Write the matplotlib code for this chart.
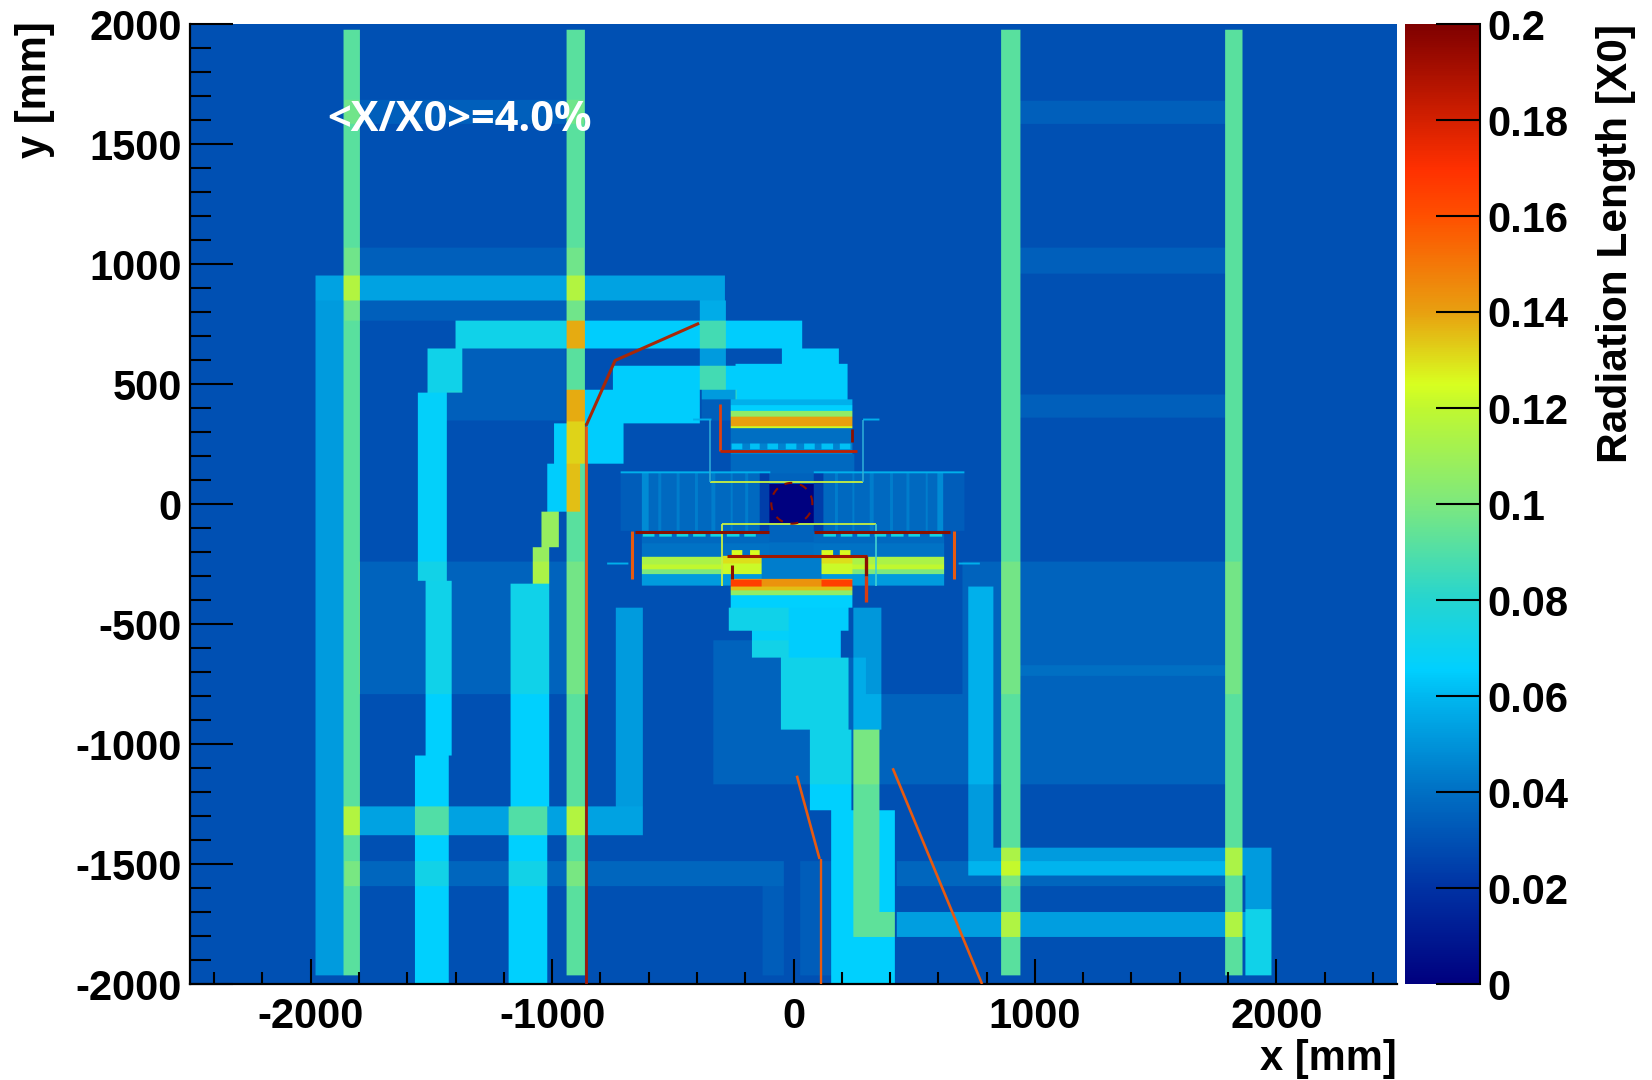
"""Radiation length map in the x-y plane, drawn as a material budget picture."""

import matplotlib
matplotlib.use("Agg")
import matplotlib.pyplot as plt
import numpy as np
from matplotlib.colors import LinearSegmentedColormap

plt.rcParams["font.family"] = ["Liberation Sans", "DejaVu Sans"]
plt.rcParams["axes.unicode_minus"] = False

W, H = 1652, 1080

# colour scale
CMAP_VALUES = [0, 0.02, 0.04, 0.06, 0.0655, 0.08, 0.1, 0.12, 0.125, 0.14, 0.16, 0.17, 0.2]
CMAP_COLORS = ["#00007f", "#0032a4", "#0070c4", "#00b8f0", "#00d0ff", "#25d5d0", "#7de87e",
               "#c0f830", "#d8ff20", "#e8a010", "#ff5000", "#ff3000", "#7f0000"]

BACKGROUND = 0.03
XTICKS = [-2000, -1000, 0, 1000, 2000]
YTICKS = [-2000, -1500, -1000, -500, 0, 500, 1000, 1500, 2000]
ZTICKS = [0, 0.02, 0.04, 0.06, 0.08, 0.1, 0.12, 0.14, 0.16, 0.18, 0.2]
ZTICK_LABELS = ["0", "0.02", "0.04", "0.06", "0.08", "0.1", "0.12", "0.14", "0.16", "0.18", "0.2"]

# (x0, x1, y0, y1, added X/X0), faint structure behind everything
FAINT_BANDS = [
    (-1860, -870, 1584, 1685, 0.005), (939, 1790, 1584, 1680, 0.005),
    (-1860, -870, 954, 1067, 0.005), (939, 1790, 960, 1068, 0.005),
    (-1860, -280, 765, 848, 0.005), (-1370, -943, 473, 646, 0.005),
    (-1438, -943, 348, 473, 0.005), (939, 1790, 360, 457, 0.005),
    (-379, -260, 348, 437, 0.005),
    (-1800, -870, -790, -240, 0.006), (700, 1850, -790, -240, 0.006),
    (939, 1790, -715, -670, 0.004),
    (-332, -20, -638, -569, 0.006), (-332, 300, -1166, -638, 0.006), (300, 860, -1166, -790, 0.006),
    (939, 1790, -1166, -790, 0.006),
    (-1860, -41, -1590, -1486, 0.007), (430, 1790, -1590, -1486, 0.007),
    (-128, -41, -1965, -1590, 0.004), (29, 158, -1965, -1486, 0.004),
]

# cold pipes and service channels
PIPES = [
    # upper left loop
    (-1981, -282, 850, 954, 0.024), (-1981, -1863, -1965, 850, 0.022),
    (-387, -280, 577, 850, 0.022), (-387, -280, 477, 577, 0.022), (-379, -238, 437, 477, 0.022),
    # top pipe and elbow
    (-1399, -943, 648, 764, 0.042), (-943, 38, 648, 764, 0.035),
    (-49, 186, 584, 648, 0.035), (-239, 224, 437, 584, 0.035),
    (-746, -239, 476, 577, 0.035),
    (-863, -387, 337, 476, 0.035),
    (-856, -704, 167, 337, 0.035), (-991, -942, 167, 337, 0.035),
    (-942, -863, 345, 476, 0.046), (-942, -863, 167, 345, 0.040),
    (-1022, -884, -30, 167, 0.035), (-942, -884, -30, 167, 0.008),
    # middle left run
    (-1517, -1370, 466, 646, 0.042), (-1557, -1438, -320, 466, 0.037),
    (-1525, -1416, -1048, -320, 0.036),
    (-1569, -1428, -2000, -1048, 0.036),
    (-1042, -973, -180, -30, 0.078), (-1081, -1012, -333, -180, 0.078),
    (-1171, -1014, -1259, -333, 0.036),
    (-1182, -1021, -2000, -1259, 0.036),
    # lower left crossing
    (-1863, -625, -1379, -1259, 0.024), (-735, -625, -1259, -433, 0.022),
    # funnel under the detector
    (-270, -20, -527, -430, 0.042), (-20, 227, -527, -430, 0.035),
    (-170, -20, -638, -527, 0.037), (-20, 197, -638, -527, 0.035),
    (-51, 228, -941, -638, 0.036), (69, 241, -1277, -941, 0.036),
    (158, 247, -1805, -1277, 0.036), (158, 421, -2000, -1805, 0.036),
    (247, 365, -941, -433, 0.021), (247, 358, -1701, -941, 0.063),
    (358, 421, -1701, -1277, 0.036), (247, 421, -1805, -1701, 0.063),
    # lower right loop
    (426, 1871, -1805, -1701, 0.023), (1871, 1978, -1965, -1687, 0.042),
    (1871, 1978, -1687, -1430, 0.022), (722, 1871, -1548, -1430, 0.022),
    (722, 830, -1430, -342, 0.022),
]

# vertical coils
COILS = [
    (-1863, -1794, -1965, 1978, 0.062), (-942, -863, -1965, 1978, 0.062),
    (860, 938, -1965, 1978, 0.062), (1790, 1858, -1965, 1978, 0.062),
]

# extra material where the top pipe runs through the coil
CROSSINGS = [(-942, -863, 648, 764, 0.011)]

# (x0, x1, y0, y1, X/X0), central detector painted over the rest
DETECTOR = [
    # barrel
    (-715, 710, -110, 126, 0.034), (-626, 620, -110, 126, 0.038),
    (-626, -600, -110, 126, 0.048), (596, 620, -110, 126, 0.048),
    # upper stack
    (-260, 245, 411, 435, 0.058), (-260, 245, 387, 411, 0.066), (-260, 245, 365, 387, 0.106),
    (-260, 245, 323, 365, 0.140), (-260, 245, 317, 323, 0.122), (-260, 245, 251, 317, 0.040),
    (-260, 245, 209, 251, 0.045), (-262, 250, 91, 209, 0.038),
    # lower barrel layers
    (-626, 624, -163, -117, 0.038), (-626, 624, -221, -163, 0.041),
    (-626, 624, -253, -221, 0.114), (-626, 624, -270, -253, 0.120),
    (-626, 624, -293, -270, 0.100), (-626, 624, -341, -293, 0.052),
    # lower stack
    (-293, -132, -250, -215, 0.130), (117, 245, -250, -215, 0.130),
    (-293, -132, -293, -250, 0.122), (117, 245, -293, -250, 0.122),
    (-132, 117, -312, -215, 0.044), (-293, -132, -316, -293, 0.052), (117, 245, -316, -293, 0.052),
    (-260, 245, -344, -312, 0.143), (-260, -132, -344, -316, 0.165), (117, 245, -344, -316, 0.165),
    (-260, 245, -361, -344, 0.135), (-260, 245, -381, -361, 0.106), (-260, 245, -430, -381, 0.066),
    # beam hole
    (-139, 126, -110, 126, 0.024), (-100, 86, 84, 126, 0.036), (-100, 86, -110, -80, 0.036),
    (-100, 86, -80, 84, 0.001), (-100, 86, -160, -110, 0.036),
    (-100, 86, -215, -160, 0.040),
    # thin cylinders and stubs
    (-715, -97, 128, 137, 0.058), (82, 710, 128, 137, 0.058),
    (-415, -339, 348, 356, 0.058), (289, 358, 348, 356, 0.058),
    (-773, -684, -251, -243, 0.058), (682, 772, -251, -243, 0.058),
]

# sensor fins in the barrel, x centres
FIN_X = [-553, -477, -401, -332, -256, -194, 179, 248, 324, 406, 475, 552]
# readout pads, x centres
PAD_X = [-235, -160, -85, -10, 65, 140, 215]
# pads at the lower barrel face
LOWER_PAD_X = [-600, -530, -460, -390, -320, -250, -180, 150, 220, 290, 360, 430, 500, 590]

# (x points, y points, colour, width)
THIN_LINES = [
    ([-346, 289], [91, 91], "#c8f040", 1.3),
    ([-346, -346], [91, 348], "#30b0d8", 1.1), ([289, 289], [91, 348], "#30b0d8", 1.1),
    ([-297, 342], [-85, -85], "#c8f040", 1.3),
    ([-297, -297], [-85, -340], "#c8f040", 1.3), ([342, 342], [-85, -340], "#40d0d0", 1.2),
    ([-304, -304], [415, 220], "#e04010", 2.0), ([-304, 264], [220, 220], "#c02000", 2.0),
    ([241, 241], [313, 258], "#8a1000", 2.0),
    ([-656, -101], [-117, -117], "#8a1000", 2.2), ([86, 648], [-117, -117], "#8a1000", 2.2),
    ([-277, 303], [-215, -215], "#a01800", 2.2), ([300, 300], [-215, -300], "#8a1000", 2.4),
    ([300, 300], [-300, -409], "#d83c10", 2.4), ([-256, -256], [-256, -312], "#8a1000", 2.2),
    ([-670, -670], [-113, -312], "#e85a10", 2.2), ([666, 666], [-113, -312], "#e85a10", 2.2),
    ([-391, -739, -859], [753, 598, 327], "#a82808", 2.2),
    ([-859, -859], [327, -790], "#e85a10", 2.0), ([-859, -859], [-790, -2000], "#a01808", 2.0),
    ([14, 108], [-1132, -1479], "#e85a10", 1.9), ([112, 112], [-1479, -2000], "#e85a10", 1.7),
    ([411, 781], [-1101, -2000], "#e85a10", 1.9),
]

CIRCLE_CENTER = (-7, 3)
CIRCLE_RADIUS = 85
XLIM = (-2500, 2500)
YLIM = (-2000, 2000)
CELL = 4


def cell_range(lo, hi, origin):
    return int(round((lo - origin) / CELL)), int(round((hi - origin) / CELL))


def build_map():
    nx = (XLIM[1] - XLIM[0]) // CELL
    ny = (YLIM[1] - YLIM[0]) // CELL
    grid = np.full((ny, nx), BACKGROUND)

    def add(rects):
        for x0, x1, y0, y1, v in rects:
            i0, i1 = cell_range(x0, x1, XLIM[0])
            j0, j1 = cell_range(y0, y1, YLIM[0])
            grid[j0:j1, i0:i1] += v

    def paint(rects):
        for x0, x1, y0, y1, v in rects:
            i0, i1 = cell_range(x0, x1, XLIM[0])
            j0, j1 = cell_range(y0, y1, YLIM[0])
            grid[j0:j1, i0:i1] = v

    add(FAINT_BANDS)
    add(PIPES)
    add(COILS)
    add(CROSSINGS)
    paint(DETECTOR)
    paint([(x - 6, x + 6, -110, 126, 0.044) for x in FIN_X])
    paint([(x - 22, x + 22, 229, 251, 0.062) for x in PAD_X])
    paint([(x - 22, x + 22, -215, -190, 0.125) for x in PAD_X if abs(x) > 100])
    paint([(x - 25, x + 25, -138, -124, 0.075) for x in LOWER_PAD_X])
    return grid


def main():
    cmap = LinearSegmentedColormap.from_list(
        "rad", [(v / 0.2, c) for v, c in zip(CMAP_VALUES, CMAP_COLORS)], N=512
    )
    fig = plt.figure(figsize=(W / 100, H / 100), dpi=100)
    ax = fig.add_axes([190 / W, 1 - 984 / H, (1397 - 190) / W, (984 - 24) / H])
    cax = fig.add_axes([1405 / W, 1 - 984 / H, (1480 - 1405) / W, (984 - 24) / H])

    # blend in colour space so no false colours appear along the edges
    im = ax.imshow(
        build_map(), origin="lower", extent=(*XLIM, *YLIM), aspect="auto",
        cmap=cmap, vmin=0, vmax=0.2, interpolation="bilinear", interpolation_stage="rgba",
    )
    for xs, ys, color, lw in THIN_LINES:
        ax.plot(xs, ys, color=color, lw=lw, solid_capstyle="butt", zorder=3)
    theta = np.linspace(0, 2 * np.pi, 120)
    ax.plot(
        CIRCLE_CENTER[0] + CIRCLE_RADIUS * np.cos(theta),
        CIRCLE_CENTER[1] + CIRCLE_RADIUS * np.sin(theta),
        color="#8a1000", lw=1.5, ls=(0, (3.8, 3.8)), zorder=3,
    )
    ax.set_xlim(*XLIM)
    ax.set_ylim(*YLIM)

    ax.set_xticks(XTICKS)
    ax.set_yticks(YTICKS)
    ax.set_xticks(np.arange(-2400, 2401, 200), minor=True)
    ax.set_yticks(np.arange(-1900, 2000, 100), minor=True)
    ax.tick_params(axis="x", which="major", direction="in", length=18, width=1.5, labelsize=30, pad=9)
    ax.tick_params(axis="x", which="minor", direction="in", length=9, width=1.5)
    ax.tick_params(axis="y", which="major", direction="in", length=31, width=1.5, labelsize=30, pad=6)
    ax.tick_params(axis="y", which="minor", direction="in", length=15, width=1.5)
    for lab in ax.get_xticklabels() + ax.get_yticklabels():
        lab.set_fontweight("bold")
    for side in ("left", "bottom"):
        ax.spines[side].set_linewidth(1.6)
    for side in ("top", "right"):
        ax.spines[side].set_visible(False)

    cb = fig.colorbar(im, cax=cax)
    cb.set_ticks(ZTICKS)
    cb.set_ticklabels(ZTICK_LABELS)
    cb.minorticks_off()
    cax.tick_params(axis="y", direction="in", length=32, width=1.5, labelsize=30, pad=5)
    for lab in cax.get_yticklabels():
        lab.set_fontweight("bold")
    cb.outline.set_visible(False)
    cax.spines["right"].set_visible(True)
    cax.spines["right"].set_linewidth(1.5)

    ax.text(
        -1930, 1598, "<X/X0>=4.0%", color="white", fontsize=30, fontweight="bold",
        family=["Open Sans", "DejaVu Sans"], ha="left", va="center",
    )
    fig.text(1397 / W, 1 - 1059 / H, "x [mm]", fontsize=30, fontweight="bold", ha="right", va="center")
    fig.text(35 / W, 1 - 21 / H, "y [mm]", fontsize=30, fontweight="bold", rotation=90, ha="center", va="top")
    fig.text(1616 / W, 1 - 24 / H, "Radiation Length [X0]", fontsize=30.6, fontweight="bold",
             rotation=90, ha="center", va="top")

    fig.savefig("out.png", dpi=100)
    plt.close(fig)


if __name__ == "__main__":
    main()
